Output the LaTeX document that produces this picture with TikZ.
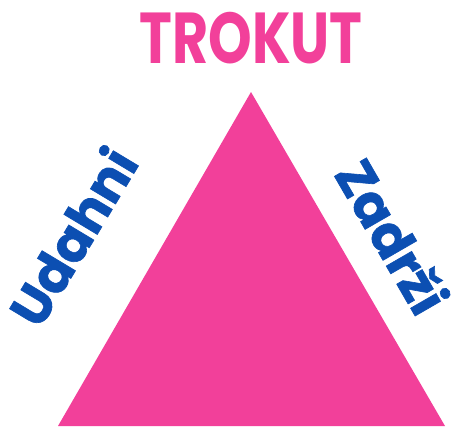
\documentclass[tikz,border=0pt]{standalone}
\usepackage{fontspec}
\setmainfont{Poppins}[BoldFont={Poppins Bold}]
\newfontfamily\heavyfont{Poppins Bold}[FakeBold=1.2]
\tikzset{>=latex}
\definecolor{mypink}{HTML}{F2409A}
\definecolor{myblue}{HTML}{0C4FB2}
\tikzstyle{title}=[text=mypink,font=\bfseries\fontsize{41}{41}\selectfont,inner sep=0,xscale=0.77]
\tikzstyle{side}=[text=myblue,font=\heavyfont\fontsize{30}{30}\selectfont,inner sep=0]

\begin{document}
\begin{tikzpicture}[x=0.02cm,y=-0.02cm]
  \def\W{456}  % picture width
  \def\H{426}  % picture height
  \useasboundingbox (0,0) rectangle (\W,\H);

  % TRIANGLE
  \coordinate (A) at (251,92);
  \coordinate (B) at (58,\H);
  \coordinate (C) at (445,\H);
  \fill[mypink] (A) -- (B) -- (C) -- cycle;

  % LABELS
  \node[title] (naslov) at (251,38) {TROKUT};
  \node[side,rotate=59] (udahni) at (72,236) {Udahni};
  \node[side,rotate=-60] (zadrzi) at (393,236) {Zadrži};
\end{tikzpicture}
\end{document}
